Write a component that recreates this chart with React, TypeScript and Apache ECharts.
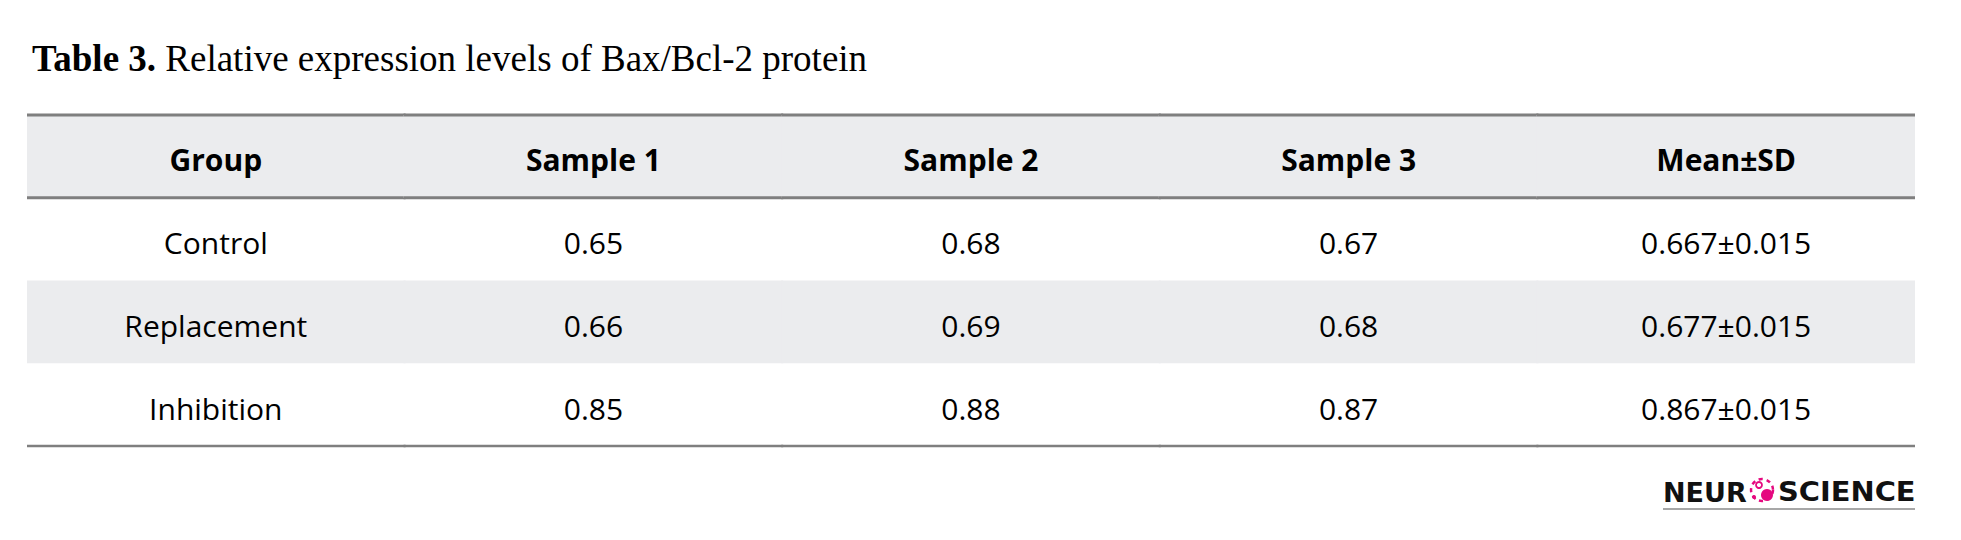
import React, { useEffect, useRef } from "react";
import * as echarts from "echarts";

const titleBold = "Table 3.";
const titleRest = "Relative expression levels of Bax/Bcl-2 protein";
const columns = ["Group", "Sample 1", "Sample 2", "Sample 3", "Mean±SD"];
const groups = ["Control", "Replacement", "Inhibition"];
const sample1 = [0.65, 0.66, 0.85];
const sample2 = [0.68, 0.69, 0.88];
const sample3 = [0.67, 0.68, 0.87];
const means = [0.667, 0.677, 0.867];
const sds = [0.015, 0.015, 0.015];
const logoLeft = "NEUR";
const logoRight = "SCIENCE";

const rowNames = ["header", ...groups];

type Cell = { c: number; r: number; text: string; header: boolean };

function buildCells(): Cell[] {
  const cells: Cell[] = [];
  columns.forEach((t, c) => cells.push({ c, r: 0, text: t, header: true }));
  groups.forEach((g, i) => {
    const r = i + 1;
    const vals = [
      g,
      sample1[i].toFixed(2),
      sample2[i].toFixed(2),
      sample3[i].toFixed(2),
      means[i].toFixed(3) + "±" + sds[i].toFixed(3),
    ];
    vals.forEach((t, c) => cells.push({ c, r, text: t, header: false }));
  });
  return cells;
}

export default function App() {
  const ref = useRef<HTMLDivElement>(null);
  useEffect(() => {
    document.body.style.margin = "0";
    if (!ref.current) return;
    const chart = echarts.init(ref.current, undefined, { renderer: "svg" });
    const cells = buildCells();
    const lineColor = "#7f7f7f";
    const bandColor = "#ebecee";
    const font = "'Open Sans', 'Noto Sans', sans-serif";
    const lastCol = columns.length - 1;

    chart.setOption({
      animation: false,
      backgroundColor: "#ffffff",
      grid: { left: 27, right: 46, top: 115, bottom: 94 },
      xAxis: { type: "category", data: columns, show: false },
      yAxis: { type: "category", data: rowNames, inverse: true, show: false },
      series: [
        {
          type: "custom",
          data: cells.map((d) => [d.c, d.r]),
          renderItem: (params: any, api: any) => {
            const cell = cells[params.dataIndex];
            const pt = api.coord([api.value(0), api.value(1)]);
            const sz = api.size([1, 1]);
            const x0 = pt[0] - sz[0] / 2;
            const y0 = pt[1] - sz[1] / 2;
            const y1 = pt[1] + sz[1] / 2;
            const lx0 = cell.c === 0 ? x0 : x0 - 1;
            const lx1 = cell.c === lastCol ? x0 + sz[0] : x0 + sz[0] + 1;
            const children: any[] = [];
            if (cell.r === 0 || cell.r === 2) {
              children.push({
                type: "rect",
                shape: { x: lx0, y: y0, width: lx1 - lx0, height: sz[1] },
                style: { fill: bandColor },
              });
            }
            if (cell.r === 0) {
              children.push({
                type: "line",
                shape: { x1: lx0, y1: y0, x2: lx1, y2: y0 },
                style: { stroke: lineColor, lineWidth: 3 },
              });
              children.push({
                type: "line",
                shape: { x1: lx0, y1: y1, x2: lx1, y2: y1 },
                style: { stroke: lineColor, lineWidth: 3 },
              });
            }
            if (cell.r === rowNames.length - 1) {
              children.push({
                type: "line",
                shape: { x1: lx0, y1: y1, x2: lx1, y2: y1 },
                style: { stroke: lineColor, lineWidth: 2.5 },
              });
            }
            children.push({
              type: "text",
              x: pt[0],
              y: pt[1] + 3.5,
              style: {
                text: cell.text,
                align: "center",
                verticalAlign: "middle",
                fontFamily: font,
                fontSize: 30,
                fontWeight: cell.header ? "bold" : "normal",
                fill: "#000000",
              },
            });
            return { type: "group", children };
          },
        },
      ],
      graphic: [
        {
          type: "text",
          x: 32,
          y: 58.5,
          style: {
            text: "{b|" + titleBold + "} " + titleRest,
            rich: {
              b: {
                fontFamily: "'Liberation Serif', serif",
                fontSize: 37,
                fontWeight: "bold",
                fill: "#000",
              },
            },
            fontFamily: "'Liberation Serif', serif",
            fontSize: 37,
            fill: "#000",
            align: "left",
            verticalAlign: "middle",
          },
        },
        {
          type: "text",
          x: 1663,
          y: 492,
          style: {
            text: logoLeft,
            fontFamily: "'DejaVu Sans', sans-serif",
            fontWeight: "bold",
            fontSize: 27,
            fill: "#111",
            align: "left",
            verticalAlign: "middle",
          },
        },
        {
          type: "text",
          x: 1778,
          y: 492,
          scaleX: 1.07,
          style: {
            text: logoRight,
            fontFamily: "'DejaVu Sans', sans-serif",
            fontWeight: "bold",
            fontSize: 27,
            fill: "#111",
            align: "left",
            verticalAlign: "middle",
          },
        },
        {
          type: "circle",
          shape: { cx: 1762, cy: 490, r: 11 },
          style: { fill: "none", stroke: "#e5097f", lineWidth: 2.5, lineDash: [4, 4] },
        },
        {
          type: "circle",
          shape: { cx: 1759, cy: 485, r: 3 },
          style: { fill: "none", stroke: "#e5097f", lineWidth: 1.8 },
        },
        {
          type: "circle",
          shape: { cx: 1767, cy: 495, r: 6 },
          style: { fill: "#e5097f" },
        },
        {
          type: "circle",
          shape: { cx: 1754, cy: 497, r: 2 },
          style: { fill: "#e5097f" },
        },
        {
          type: "line",
          shape: { x1: 1663, y1: 509, x2: 1915, y2: 509 },
          style: { stroke: "#8a8a8a", lineWidth: 1.5 },
        },
      ],
    });
    return () => chart.dispose();
  }, []);
  return <div ref={ref} style={{ width: 1961, height: 540 }} />;
}
